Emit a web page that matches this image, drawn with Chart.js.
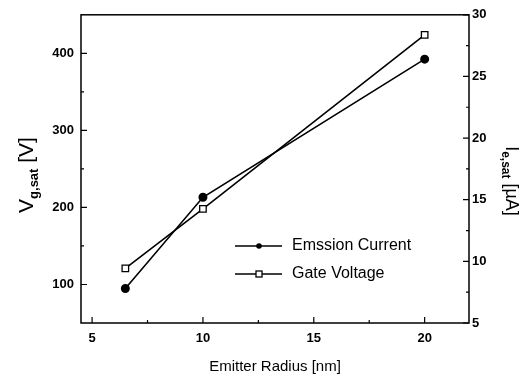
<!DOCTYPE html>
<html>
<head>
<meta charset="utf-8">
<script src="https://cdn.jsdelivr.net/npm/chart.js@4.4.1/dist/chart.umd.min.js"></script>
<style>
  html, body { margin: 0; padding: 0; background: #fff; }
  #wrap { width: 530px; height: 377px; }
</style>
</head>
<body>
<div id="wrap"><canvas id="chart" width="530" height="377"></canvas></div>
<script>
// data
const radius = [6.5, 10, 20];
const emissionCurrent = [7.8, 15.2, 26.4];   // µA, right axis
const gateVoltage = [121, 198, 424];          // V, left axis
const seriesLabels = ['Emssion Current', 'Gate Voltage'];

const xTicks = [5, 10, 15, 20];
const xMinor = [7.5, 12.5, 17.5];
const vTicks = [100, 200, 300, 400];
const vMinor = [150, 250, 350];
const iTicks = [5, 10, 15, 20, 25, 30];
const iMinor = [7.5, 12.5, 17.5, 22.5, 27.5];

const tickFont = { family: 'Liberation Sans, Arial, sans-serif', size: 13, weight: 'bold' };

function fixedTicks(values) {
    return function (scale) { scale.ticks = values.map(v => ({ value: v })); };
}

// frame, inward ticks, axis titles with subscripts, in-plot legend
const decorations = {
    id: 'decorations',
    afterDraw(chart) {
        const ctx = chart.ctx;
        const a = chart.chartArea;
        const sx = chart.scales.x, sv = chart.scales.yV, si = chart.scales.yI;
        ctx.save();
        ctx.strokeStyle = '#000';
        ctx.lineWidth = 1.5;
        ctx.strokeRect(a.left, a.top, a.right - a.left, a.bottom - a.top);

        ctx.lineWidth = 1.2;
        ctx.beginPath();
        xTicks.forEach(v => { const p = sx.getPixelForValue(v); ctx.moveTo(p, a.bottom); ctx.lineTo(p, a.bottom - 6); });
        xMinor.forEach(v => { const p = sx.getPixelForValue(v); ctx.moveTo(p, a.bottom); ctx.lineTo(p, a.bottom - 3); });
        vTicks.forEach(v => { const p = sv.getPixelForValue(v); ctx.moveTo(a.left, p); ctx.lineTo(a.left + 6, p); });
        vMinor.forEach(v => { const p = sv.getPixelForValue(v); ctx.moveTo(a.left, p); ctx.lineTo(a.left + 3, p); });
        iTicks.forEach(v => { const p = si.getPixelForValue(v); ctx.moveTo(a.right, p); ctx.lineTo(a.right - 6, p); });
        iMinor.forEach(v => { const p = si.getPixelForValue(v); ctx.moveTo(a.right, p); ctx.lineTo(a.right - 3, p); });
        ctx.stroke();

        // x title
        ctx.fillStyle = '#000';
        ctx.font = '15px "Liberation Sans", Arial, sans-serif';
        ctx.textAlign = 'center';
        ctx.textBaseline = 'middle';
        ctx.fillText('Emitter Radius [nm]', (a.left + a.right) / 2, 367);

        // rotated title with subscript
        function subTitle(x, y, angle, main, sub, rest, size, subSize) {
            ctx.save();
            ctx.translate(x, y);
            ctx.rotate(angle);
            ctx.textAlign = 'left';
            ctx.textBaseline = 'alphabetic';
            const big = size + 'px "Liberation Sans", Arial, sans-serif';
            const small = 'bold ' + subSize + 'px "Liberation Sans", Arial, sans-serif';
            ctx.font = big; const w1 = ctx.measureText(main).width;
            ctx.font = small; const w2 = ctx.measureText(sub).width;
            ctx.font = big; const w3 = ctx.measureText(rest).width;
            let cx = -(w1 + w2 + w3) / 2;
            ctx.font = big; ctx.fillText(main, cx, 0); cx += w1;
            ctx.font = small; ctx.fillText(sub, cx, size * 0.25); cx += w2;
            ctx.font = big; ctx.fillText(rest, cx, 0);
            ctx.restore();
        }
        subTitle(33, 175, -Math.PI / 2, 'V', 'g,sat', ' [V]', 21, 13);
        subTitle(506, 181, Math.PI / 2, 'I', 'e,sat', ' [\u00b5A]', 18, 12);

        // legend
        const rows = [
            { label: seriesLabels[0], y: 246, filled: true },
            { label: seriesLabels[1], y: 274, filled: false }
        ];
        rows.forEach(r => {
            ctx.lineWidth = 1.3;
            ctx.beginPath();
            ctx.moveTo(235, r.y); ctx.lineTo(282, r.y);
            ctx.stroke();
            if (r.filled) {
                ctx.beginPath(); ctx.arc(259, r.y, 2.8, 0, Math.PI * 2); ctx.fill();
            } else {
                ctx.fillStyle = '#fff';
                ctx.fillRect(256, r.y - 3, 6, 6);
                ctx.strokeRect(256, r.y - 3, 6, 6);
                ctx.fillStyle = '#000';
            }
            ctx.font = '16px "Liberation Sans", Arial, sans-serif';
            ctx.textAlign = 'left';
            ctx.textBaseline = 'middle';
            ctx.fillText(r.label, 292, r.y);
        });
        ctx.restore();
    }
};

new Chart(document.getElementById('chart'), {
    type: 'scatter',
    data: {
        datasets: [{
            label: seriesLabels[0],
            data: radius.map((r, i) => ({ x: r, y: emissionCurrent[i] })),
            yAxisID: 'yI',
            showLine: true,
            borderColor: '#000',
            borderWidth: 1.6,
            pointStyle: 'circle',
            pointRadius: 3.7,
            pointBackgroundColor: '#000',
            pointBorderColor: '#000'
        }, {
            label: seriesLabels[1],
            data: radius.map((r, i) => ({ x: r, y: gateVoltage[i] })),
            yAxisID: 'yV',
            showLine: true,
            borderColor: '#000',
            borderWidth: 1.6,
            pointStyle: 'rect',
            pointRadius: 4.6,
            pointBackgroundColor: '#fff',
            pointBorderColor: '#000',
            pointBorderWidth: 1.3
        }]
    },
    options: {
        responsive: false,
        animation: false,
        layout: { padding: { top: 13, left: 0, right: 0, bottom: 0 } },
        plugins: { legend: { display: false }, tooltip: { enabled: false } },
        scales: {
            x: {
                type: 'linear', position: 'bottom', min: 4.5, max: 22,
                afterBuildTicks: fixedTicks(xTicks),
                afterFit(scale) { scale.height = 54; },
                grid: { display: false, drawTicks: false },
                border: { display: false },
                ticks: { color: '#000', font: tickFont, padding: 8 }
            },
            yV: {
                type: 'linear', position: 'left', min: 50, max: 450,
                afterBuildTicks: fixedTicks(vTicks),
                afterFit(scale) { scale.width = 81; },
                grid: { display: false, drawTicks: false },
                border: { display: false },
                ticks: { color: '#000', font: tickFont, padding: 7 }
            },
            yI: {
                type: 'linear', position: 'right', min: 5, max: 30,
                afterBuildTicks: fixedTicks(iTicks),
                afterFit(scale) { scale.width = 61; },
                grid: { display: false, drawTicks: false },
                border: { display: false },
                ticks: { color: '#000', font: tickFont, padding: 3 }
            }
        }
    },
    plugins: [decorations]
});
</script>
</body>
</html>
